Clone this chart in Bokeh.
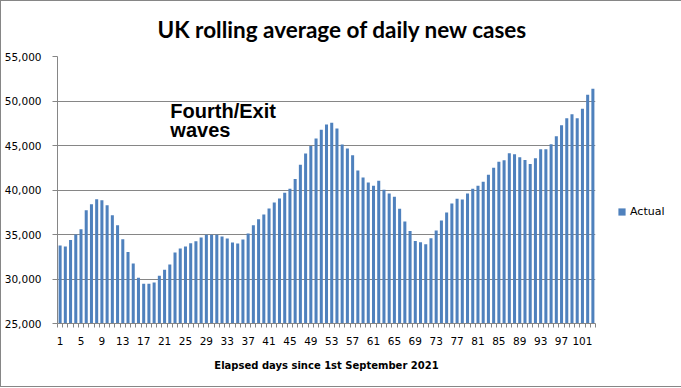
from bokeh.plotting import figure
from bokeh.models import (Range1d, FixedTicker, NumeralTickFormatter, Legend,
                          LegendItem, Label, ColumnDataSource)
from bokeh.embed import file_html
from bokeh.resources import INLINE

# ---- data ----
days = list(range(1, 104))
cases = [
    33770, 33660, 34370, 35000, 35600, 37720, 38400, 38960, 38840, 38280,
    37160, 36040, 34480, 33020, 31750, 30150, 29480, 29480, 29610, 30370,
    31040, 31620, 32990, 33420, 33660, 34020, 34240, 34670, 34960, 34960,
    34960, 34770, 34560, 34090, 33980, 34430, 35100, 36030, 36700, 37260,
    37930, 38600, 39050, 39700, 40150, 41250, 42840, 44110, 44930, 45800,
    46780, 47350, 47570, 46920, 45100, 44670, 43900, 42190, 41400, 40830,
    40490, 41050, 40040, 39610, 39250, 37900, 36460, 35380, 34260, 34120,
    33900, 34570, 35450, 36570, 37460, 38470, 39030, 38920, 39600, 40150,
    40490, 40940, 41720, 42500, 43170, 43330, 44140, 44030, 43690, 43360,
    42910, 43580, 44590, 44590, 45150, 46040, 47280, 48060, 48510, 48060,
    49140, 50710, 51380,
]
x_tick_labels = list(range(1, 104, 4))
y_ticks = [25000, 30000, 35000, 40000, 45000, 50000, 55000]
series_name = "Actual"
title_text = "UK rolling average of daily new cases"
x_title = "Elapsed days since 1st September 2021"
note_lines = ["Fourth/Exit", "waves"]

BAR = "#4F81BD"
GRID = "#868686"

src = ColumnDataSource(data=dict(day=days, cases=cases))

p = figure(frame_width=538, frame_height=267, output_backend="svg",
           toolbar_location=None,
           x_range=Range1d(days[0] - 0.5, days[-1] + 0.5),
           y_range=Range1d(y_ticks[0], y_ticks[-1]),
           min_border_left=56, min_border_right=84,
           min_border_top=55, min_border_bottom=63)
p.styles = {"border": "1px solid #868686"}
p.outline_line_color = None
p.background_fill_color = "white"
p.border_fill_color = "white"

p.title.text = title_text
p.title.align = "left"
p.title.offset = 100
p.title.vertical_align = "top"
p.title.text_font = "Lato"
p.title.text_font_style = "bold"
p.title.text_font_size = "22.5px"
p.title.text_color = "black"
p.title.standoff = 24

r = p.vbar(x="day", top="cases", bottom=0, width=0.58, source=src,
           fill_color=BAR, line_color=None)

# x axis
xt = FixedTicker(ticks=x_tick_labels,
                 minor_ticks=[d - 0.5 for d in days] + [days[-1] + 0.5])
p.xaxis.ticker = xt
p.xaxis.major_tick_line_color = None
p.xaxis.minor_tick_line_color = GRID
p.xaxis.minor_tick_out = 4
p.xaxis.minor_tick_in = 0
p.xaxis.axis_line_color = GRID
p.xaxis.major_label_text_font = "DejaVu Sans"
p.xaxis.major_label_text_font_size = "10.5px"
p.xaxis.major_label_text_color = "black"
p.xaxis.major_label_standoff = 7
p.xaxis.axis_label = x_title
p.xaxis.axis_label_text_font = "DejaVu Sans"
p.xaxis.axis_label_text_font_style = "bold"
p.xaxis.axis_label_text_font_size = "10px"
p.xaxis.axis_label_text_color = "black"
p.xaxis.axis_label_standoff = 12
p.xgrid.grid_line_color = None

# y axis
yt = FixedTicker(ticks=y_ticks, minor_ticks=[])
p.yaxis.ticker = yt
p.yaxis.formatter = NumeralTickFormatter(format="0,0")
p.yaxis.major_tick_line_color = GRID
p.yaxis.major_tick_out = 5
p.yaxis.major_tick_in = 0
p.yaxis.minor_tick_line_color = None
p.yaxis.axis_line_color = GRID
p.yaxis.major_label_text_font = "DejaVu Sans"
p.yaxis.major_label_text_font_size = "10.5px"
p.yaxis.major_label_text_color = "black"
p.yaxis.major_label_standoff = 11
p.ygrid.ticker = yt
p.ygrid.grid_line_color = GRID
p.ygrid.grid_line_width = 1

# annotation
for i, t in enumerate(note_lines):
    p.add_layout(Label(x=22.1, y=48900 - i * 2210, text=t,
                       text_font="Liberation Sans", text_font_style="bold",
                       text_font_size="20px", text_color="black",
                       text_baseline="alphabetic", text_align="left"))

legend = Legend(items=[LegendItem(label=series_name, renderers=[r])],
                location=(22, 105), orientation="vertical",
                glyph_width=9, glyph_height=9, label_standoff=4,
                label_text_font="DejaVu Sans", label_text_font_size="11px",
                label_text_color="black", border_line_color=None,
                background_fill_alpha=0, padding=0, margin=0, spacing=0,
                label_height=9)
p.add_layout(legend, "right")

open("out.html", "w").write(file_html(p, INLINE))
